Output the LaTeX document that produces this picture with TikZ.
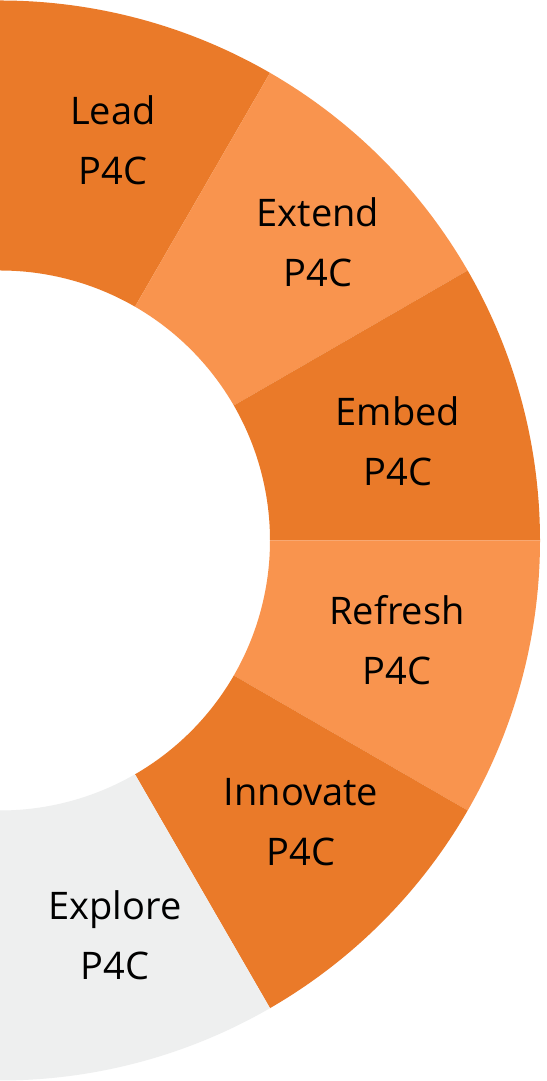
\documentclass[tikz,border=0pt]{standalone}
\usepackage{fontspec}
\setmainfont{Open Sans}
\usetikzlibrary{calc}
\definecolor{darkor}{HTML}{EA7A29}
\definecolor{lightor}{HTML}{F9944E}
\definecolor{greyseg}{HTML}{EEEFEF}
\begin{document}
\begin{tikzpicture}[x=1pt,y=1pt,
  lbl/.style={align=center,font=\fontsize{38}{60}\selectfont,text=black,inner sep=0pt}]
\useasboundingbox (0,0) rectangle (546,1081);
\fill[white] (0,0) rectangle (546,1081);
\def\R{540}\def\r{270}
\coordinate (c) at (0,540.5);
\foreach \a/\col in {90/darkor,60/lightor,30/darkor,0/lightor,-30/darkor,-60/greyseg}{
  \fill[\col] ($(c)+(\a:\r)$) -- ($(c)+(\a:\R)$) arc[start angle=\a,end angle=\a-30,radius=\R]
     -- ($(c)+(\a-30:\r)$) arc[start angle=\a-30,end angle=\a,radius=\r] -- cycle;
}
\node[lbl] (lead) at (113,941) {Lead\\P4C};
\node[lbl] (extend) at (318,839) {Extend\\P4C};
\node[lbl] (embed) at (398,640) {Embed\\P4C};
\node[lbl] (refresh) at (397,441) {Refresh\\P4C};
\node[lbl] (innovate) at (301,259) {Innovate\\P4C};
\node[lbl] (explore) at (115,146) {Explore\\P4C};
\end{tikzpicture}
\end{document}
